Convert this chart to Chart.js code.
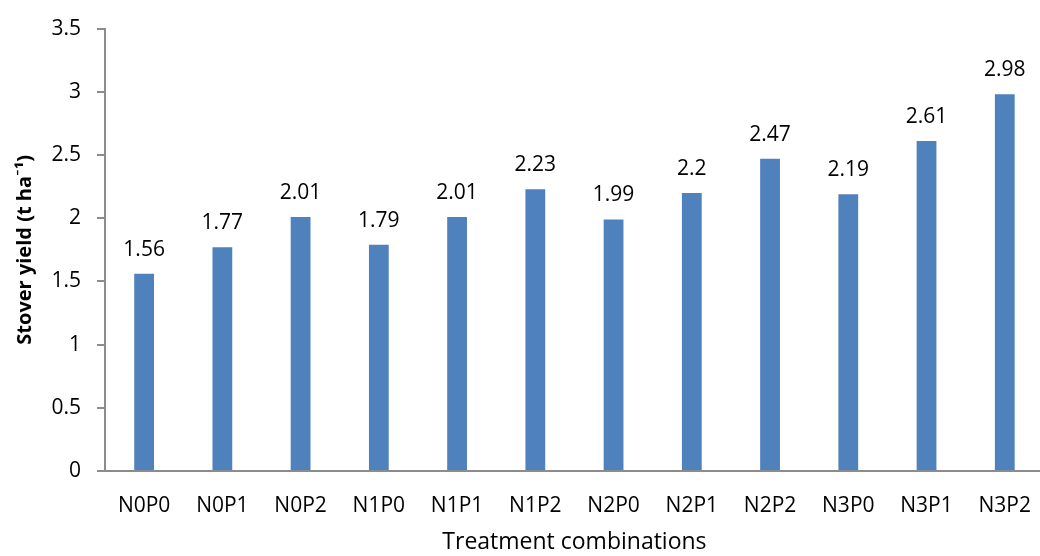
<!DOCTYPE html>
<html>
<head>
<meta charset="utf-8">
<script src="https://cdn.jsdelivr.net/npm/chart.js@4/dist/chart.umd.min.js"></script>
<style>
  html, body { margin: 0; padding: 0; background: #fff; overflow: hidden; }
  #wrap { width: 1053px; height: 556px; position: relative; }
</style>
</head>
<body>
<div id="wrap"><canvas id="chart"></canvas></div>
<script>
var categories = ['N0P0', 'N0P1', 'N0P2', 'N1P0', 'N1P1', 'N1P2', 'N2P0', 'N2P1', 'N2P2', 'N3P0', 'N3P1', 'N3P2'];
var stoverYield = [1.56, 1.77, 2.01, 1.79, 2.01, 2.23, 1.99, 2.2, 2.47, 2.19, 2.61, 2.98];
var yTicks = [0, 0.5, 1, 1.5, 2, 2.5, 3, 3.5];

var fontFam = "'Open Sans', Lato, sans-serif";

// value labels over each bar
var barLabels = {
  id: 'barLabels',
  afterDatasetsDraw: function(chart) {
    var ctx = chart.ctx;
    var meta = chart.getDatasetMeta(0);
    ctx.save();
    ctx.font = '21px ' + fontFam;
    ctx.fillStyle = '#000';
    ctx.textAlign = 'center';
    ctx.textBaseline = 'alphabetic';
    meta.data.forEach(function(bar, i) {
      ctx.fillText(String(stoverYield[i]), bar.x, bar.y - 18);
    });
    ctx.restore();
  }
};

var ctx = document.getElementById('chart').getContext('2d');
new Chart(ctx, {
  type: 'bar',
  data: {
    labels: categories,
    datasets: [{
      data: stoverYield,
      backgroundColor: '#4F81BD',
      barPercentage: 0.253,
      categoryPercentage: 1.0
    }]
  },
  options: {
    responsive: true,
    maintainAspectRatio: false,
    animation: false,
    layout: { padding: { top: 27, right: 0, left: 0, bottom: 0 } },
    plugins: {
      legend: { display: false },
      tooltip: { enabled: false }
    },
    scales: {
      x: {
        grid: { display: false, drawTicks: false },
        border: { color: '#8c8c8c', width: 2 },
        ticks: { color: '#000', font: { family: fontFam, size: 21 }, padding: 22 },
        title: {
          display: true,
          text: 'Treatment combinations',
          color: '#000',
          font: { family: fontFam, size: 23 },
          padding: { top: 6, bottom: 0 }
        },
        afterFit: function(scale) { scale.height = 85; }
      },
      y: {
        min: 0,
        max: 3.5,
        afterBuildTicks: function(scale) {
          scale.ticks = yTicks.map(function(v) { return { value: v }; });
        },
        grid: { display: true, drawOnChartArea: false, drawTicks: true, tickLength: 8, color: '#8c8c8c', lineWidth: 2 },
        border: { color: '#8c8c8c', width: 2 },
        ticks: {
          color: '#000',
          font: { family: fontFam, size: 21 },
          padding: 16,
          callback: function(v) { return String(v); }
        },
        title: {
          display: true,
          text: 'Stover yield (t ha\u207B\u00B9)',
          color: '#000',
          font: { family: fontFam, size: 20, weight: 'bold' },
          padding: { top: 13, bottom: 0 }
        },
        afterFit: function(scale) { scale.width = 105; }
      }
    }
  },
  plugins: [barLabels]
});
</script>
</body>
</html>
